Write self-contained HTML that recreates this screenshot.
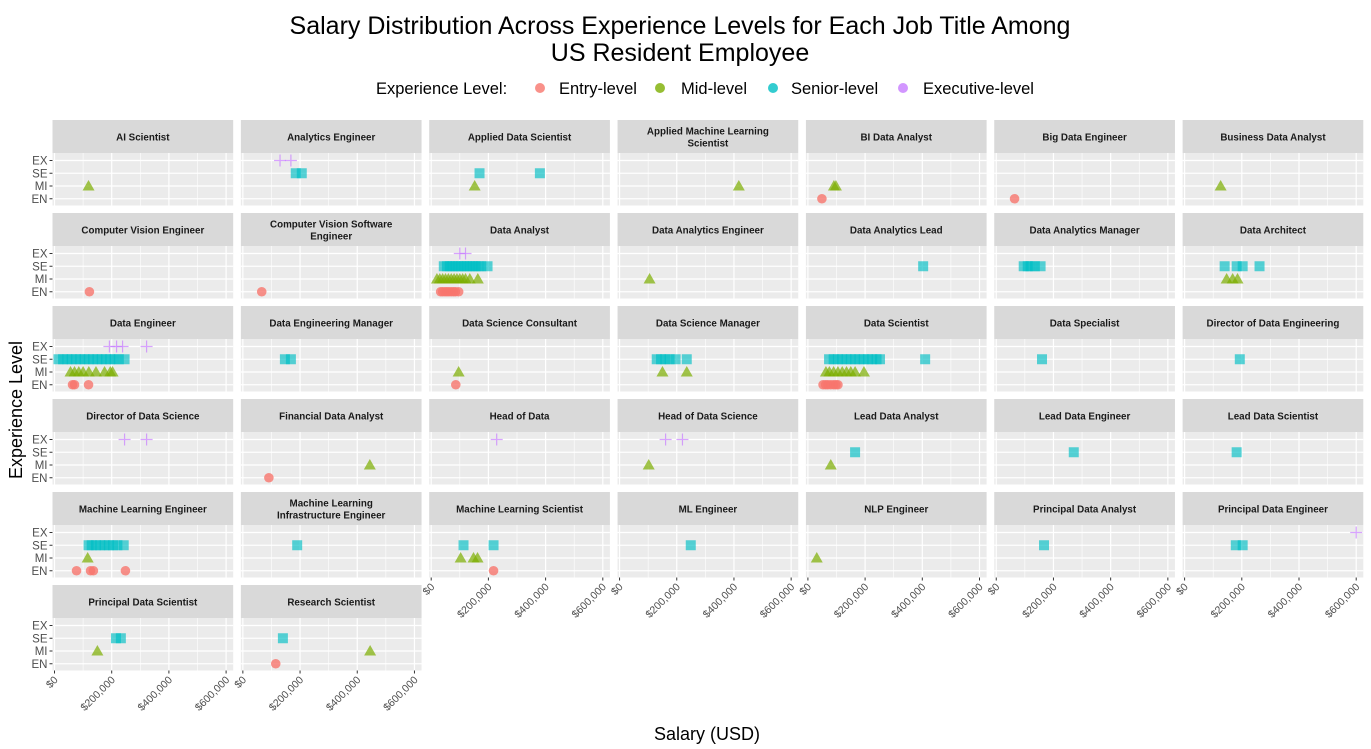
<!DOCTYPE html>
<html><head><meta charset="utf-8">
<style>
body{margin:0;background:#fff;}
svg{display:block;font-family:"Liberation Sans",Arial,sans-serif;}
</style></head>
<body>
<svg id="chart" width="1371" height="749" xmlns="http://www.w3.org/2000/svg">
<text x="680" y="34" text-anchor="middle" font-size="25" fill="#000">Salary Distribution Across Experience Levels for Each Job Title Among</text>
<text x="680" y="61" text-anchor="middle" font-size="25" fill="#000">US Resident Employee</text>
<g font-size="16.5">
<text x="376" y="94">Experience Level:</text>
<g><circle cx="540" cy="88" r="5" fill="#F8766D" fill-opacity="0.8"/><text x="559" y="94">Entry-level</text></g>
<g><circle cx="660" cy="88" r="5" fill="#7CAE00" fill-opacity="0.8"/><text x="681" y="94">Mid-level</text></g>
<g><circle cx="773" cy="88" r="5" fill="#00BFC4" fill-opacity="0.8"/><text x="791" y="94">Senior-level</text></g>
<g><circle cx="903" cy="88" r="5" fill="#C77CFF" fill-opacity="0.8"/><text x="923" y="94">Executive-level</text></g>
</g>
<text transform="translate(22,410) rotate(-90)" text-anchor="middle" font-size="18">Experience Level</text>
<text x="707" y="740" text-anchor="middle" font-size="18">Salary (USD)</text>
<g id="panels"></g>
</svg>
<script>
const facets = ["AI Scientist","Analytics Engineer","Applied Data Scientist","Applied Machine Learning|Scientist","BI Data Analyst","Big Data Engineer","Business Data Analyst",
"Computer Vision Engineer","Computer Vision Software|Engineer","Data Analyst","Data Analytics Engineer","Data Analytics Lead","Data Analytics Manager","Data Architect",
"Data Engineer","Data Engineering Manager","Data Science Consultant","Data Science Manager","Data Scientist","Data Specialist","Director of Data Engineering",
"Director of Data Science","Financial Data Analyst","Head of Data","Head of Data Science","Lead Data Analyst","Lead Data Engineer","Lead Data Scientist",
"Machine Learning Engineer","Machine Learning|Infrastructure Engineer","Machine Learning Scientist","ML Engineer","NLP Engineer","Principal Data Analyst","Principal Data Engineer",
"Principal Data Scientist","Research Scientist"];
const entryVals = [[],[],[],[],[49000],[64000],[],
[122000],[66000],[33000,40000,48000,55000,62000,70000,78000,85000,96000],[],[],[],[],
[63000,70000,119000],[],[86000],[],[53000,62000,70000,80000,90000,98000,105000],[],[],
[],[91000],[],[],[],[],[],
[77000,126000,136000,248000],[],[218000],[],[],[],[],
[],[115000]];
const midVals = [[119000],[],[152000],[417000],[91000,98000],[],[126000],
[],[],[20000,30000,40000,50000,60000,70000,80000,90000,100000,110000,120000,135000,163000],[105000],[],[],[147000,168000,185000],
[56000,70000,85000,100000,120000,145000,175000,195000,203000],[],[96000],[150000,235000],[63000,75000,90000,105000,120000,135000,150000,165000,196000],[],[],
[],[444000],[],[102000],[80000],[],[],
[116000],[],[103000,148000,162000],[],[31000],[],[],
[150000],[445000]];
const seniorVals = [[],[185000,206000],[169000,380000],[],[],[],[],
[],[],[44000,55000,65000,75000,85000,95000,105000,115000,125000,135000,145000,155000,165000,175000,197000],[],[403000],[96000,110000,120000,135000,155000],[140000,182000,203000,262000],
[14000,30000,45000,60000,75000,90000,105000,120000,135000,150000,165000,180000,195000,210000,225000,245000],[147000,168000],[],[130000,145000,160000,175000,196000,235000],[74000,90000,105000,120000,135000,150000,165000,180000,195000,210000,225000,240000,252000,410000],[160000],[193000],
[],[],[],[],[165000],[271000],[182000],
[119000,130000,145000,160000,175000,190000,205000,220000,242000],[190000],[113000,218000],[249000],[],[167000],[179000,203000],
[215000,232000],[140000]];
const execVals = [[],[130000,168000],[],[],[],[],[],
[],[],[100000,120000],[],[],[],[],
[192000,217000,238000,322000],[],[],[],[],[],[],
[245000,322000],[],[229000],[161000,220000],[],[],[],
[],[],[],[],[],[],[600000],
[],[]];
const levels = ["EX","SE","MI","EN"];
const xTicks = [0,200000,400000,600000];
const xTickLabels = ["$0","$200,000","$400,000","$600,000"];
const xMinor = [100000,300000,500000];

const NS="http://www.w3.org/2000/svg";
const root=document.getElementById('panels');
function el(tag,attrs,parent){const e=document.createElementNS(NS,tag);for(const k in attrs)e.setAttribute(k,attrs[k]);(parent||root).appendChild(e);return e;}
const PW=180.7, PITCH=188.35, LEFT0=52.5, PH=52.5, STRIPH=33;
function xs(left,v){return left+2+v*57.2/200000;}
function ys(top,i){return top+7.5+i*12.75;}
const ncol=7;
facets.forEach((name,idx)=>{
  const c=idx%ncol, r=Math.floor(idx/ncol);
  const left=LEFT0+c*PITCH, stripTop=120+r*93, top=stripTop+STRIPH;
  const g=el('g',{});
  
  
  const strip=el('rect',{x:left,y:stripTop,width:PW,height:STRIPH,fill:'#d9d9d9'},g);
  
  
  const lines=name.split('|');
  lines.forEach((ln,i)=>{
    const t=el('text',{x:left+PW/2,y:stripTop+(lines.length==1?20.5:14.5+i*12),'text-anchor':'middle','font-size':'9.8','font-weight':'bold',fill:'#1a1a1a'},g);
    t.textContent=ln;
    
    
  });
  const bg=el('rect',{x:left,y:top,width:PW,height:PH,fill:'#ebebeb'},g);
  
  
  xMinor.forEach(v=>el('line',{x1:xs(left,v),x2:xs(left,v),y1:top,y2:top+PH,stroke:'#fff','stroke-width':0.6},g));
  xTicks.forEach(v=>el('line',{x1:xs(left,v),x2:xs(left,v),y1:top,y2:top+PH,stroke:'#fff','stroke-width':1.2},g));
  levels.forEach((lv,i)=>el('line',{x1:left,x2:left+PW,y1:ys(top,i),y2:ys(top,i),stroke:'#fff','stroke-width':1.2},g));
  if(c==0){
    levels.forEach((lv,i)=>{
      el('line',{x1:left-3,x2:left,y1:ys(top,i),y2:ys(top,i),stroke:'#333','stroke-width':1},g);
      const t=el('text',{x:left-5,y:ys(top,i)+4,'text-anchor':'end','font-size':'11.5',fill:'#4d4d4d'},g);
      t.textContent=lv;
      
      
    });
  }
  const bottom = (idx+ncol>=facets.length);
  if(bottom){
    xTicks.forEach((v,i)=>{
      const x=xs(left,v), y=top+PH;
      el('line',{x1:x,x2:x,y1:y,y2:y+3,stroke:'#333','stroke-width':1},g);
      const t=el('text',{x:0,y:0,'text-anchor':'end','font-size':'10.5',fill:'#4d4d4d',transform:`translate(${x+4},${y+10}) rotate(-45)`},g);
      t.textContent=xTickLabels[i];
      
      
    });
  }
  execVals[idx].forEach(v=>{
    const x=xs(left,v), y=ys(top,0);
    const p=el('path',{d:`M${x-6} ${y}H${x+6}M${x} ${y-6}V${y+6}`,stroke:'#C77CFF','stroke-opacity':0.7,'stroke-width':1.2,fill:'none'},g);
    
    
  });
  seniorVals[idx].forEach(v=>{
    const x=xs(left,v), y=ys(top,1);
    const p=el('rect',{x:x-5,y:y-5,width:10,height:10,fill:'#00BFC4','fill-opacity':0.65},g);
    
    
  });
  midVals[idx].forEach(v=>{
    const x=xs(left,v), y=ys(top,2);
    const p=el('path',{d:`M${x} ${y-6}L${x+6} ${y+4.5}L${x-6} ${y+4.5}Z`,fill:'#7CAE00','fill-opacity':0.7},g);
    
    
  });
  entryVals[idx].forEach(v=>{
    const x=xs(left,v), y=ys(top,3);
    const p=el('circle',{cx:x,cy:y,r:4.8,fill:'#F8766D','fill-opacity':0.8},g);
    
    
  });
});
</script>
</body></html>
